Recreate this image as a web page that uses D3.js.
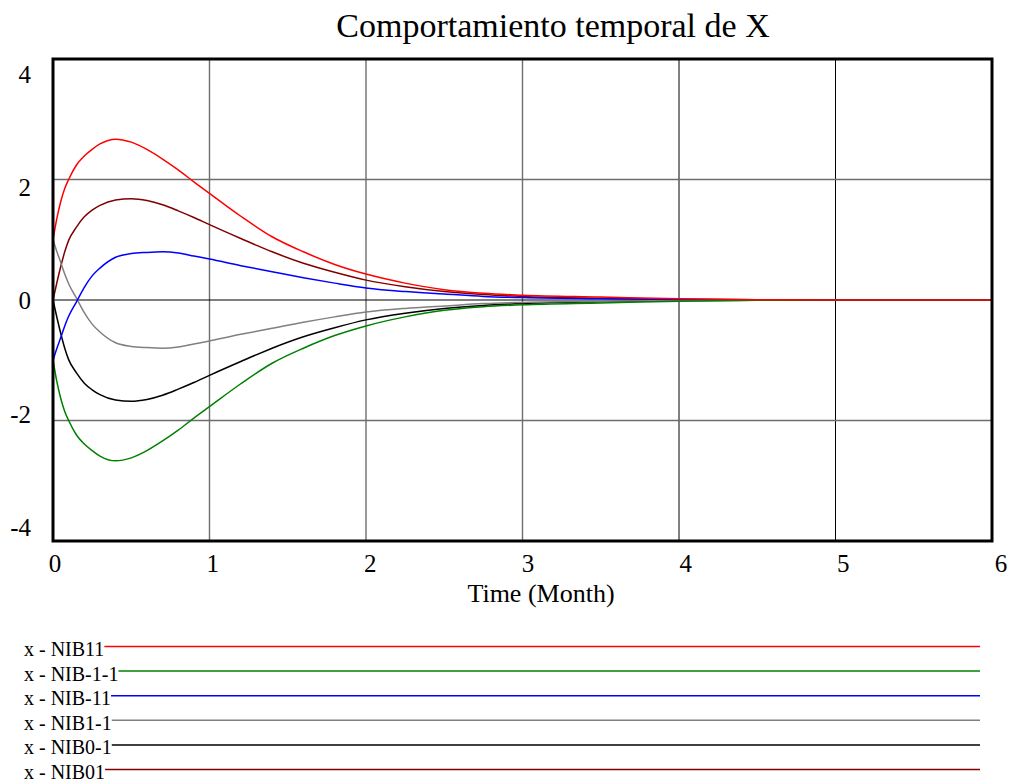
<!DOCTYPE html>
<html>
<head>
<meta charset="utf-8">
<script src="https://cdn.jsdelivr.net/npm/d3@7"></script>
<style>
  html, body { margin: 0; padding: 0; background: #fff; }
  svg { display: block; }
  text { font-family: "Liberation Serif", "Times New Roman", serif; fill: #000; }
</style>
</head>
<body>
<svg id="chart" width="1010" height="782"></svg>
<script>
// ---- Data ----
const title = "Comportamiento temporal de X";
const xAxisTitle = "Time (Month)";
const xTicks = [0, 1, 2, 3, 4, 5, 6];
const yTicks = [4, 2, 0, -2, -4];

const time = [0, 0.025, 0.05, 0.075, 0.1, 0.15, 0.2, 0.25, 0.3, 0.4, 0.5, 0.6, 0.7, 0.8, 0.9, 1.0,
              1.2, 1.4, 1.6, 1.8, 2.0, 2.25, 2.5, 2.75, 3.0, 3.5, 4.0, 4.5, 5.0, 6.0];

const nib11   = [1.00, 1.36, 1.64, 1.85, 2.00, 2.24, 2.39, 2.50, 2.59, 2.67, 2.62, 2.50, 2.34, 2.16, 1.96, 1.77,
                 1.39, 1.05, 0.80, 0.59, 0.43, 0.28, 0.17, 0.11, 0.08, 0.05, 0.02, 0.005, 0, 0];
const nibm1m1 = [-1.00, -1.36, -1.64, -1.85, -2.00, -2.24, -2.39, -2.50, -2.59, -2.67, -2.62, -2.50, -2.34, -2.16, -1.96, -1.77,
                 -1.39, -1.05, -0.80, -0.59, -0.43, -0.28, -0.17, -0.11, -0.08, -0.05, -0.02, -0.005, 0, 0];
const nibm11  = [-1.00, -0.80, -0.62, -0.43, -0.27, -0.03, 0.21, 0.40, 0.53, 0.71, 0.77, 0.79, 0.80, 0.78, 0.73, 0.68,
                 0.57, 0.47, 0.37, 0.28, 0.20, 0.14, 0.10, 0.06, 0.04, 0.02, 0.01, 0.003, 0, 0];
const nib1m1  = [1.00, 0.80, 0.62, 0.43, 0.27, 0.03, -0.21, -0.40, -0.53, -0.71, -0.77, -0.79, -0.80, -0.78, -0.73, -0.68,
                 -0.57, -0.47, -0.37, -0.28, -0.20, -0.14, -0.10, -0.06, -0.04, -0.02, -0.01, -0.003, 0, 0];
const nib0m1  = [0, -0.29, -0.56, -0.80, -0.99, -1.21, -1.38, -1.49, -1.57, -1.66, -1.68, -1.65, -1.58, -1.48, -1.37, -1.25,
                 -1.02, -0.80, -0.61, -0.46, -0.33, -0.22, -0.14, -0.09, -0.06, -0.03, -0.01, -0.003, 0, 0];
const nib01   = [0, 0.29, 0.56, 0.80, 0.99, 1.21, 1.38, 1.49, 1.57, 1.66, 1.68, 1.65, 1.58, 1.48, 1.37, 1.25,
                 1.02, 0.80, 0.61, 0.46, 0.33, 0.22, 0.14, 0.09, 0.06, 0.03, 0.01, 0.003, 0, 0];

const seriesNames  = ["x - NIB11", "x - NIB-1-1", "x - NIB-11", "x - NIB1-1", "x - NIB0-1", "x - NIB01"];
const seriesValues = [nib11, nibm1m1, nibm11, nib1m1, nib0m1, nib01];
const seriesColors = ["#ff0000", "#008000", "#0000ff", "#808080", "#000000", "#800000"];

// ---- Layout ----
const svg = d3.select("#chart");
const plotL = 53, plotR = 992, plotT = 59, plotB = 541;

const x = d3.scaleLinear().domain([0, 6]).range([plotL, plotR]);
const y = d3.scaleLinear().domain([-4, 4]).range([plotB, plotT]);
// label placement scales (labels are spread slightly differently than gridlines)
const xLab = d3.scaleLinear().domain([0, 6]).range([55, 1001]);
const yLab = d3.scaleLinear().domain([-4, 4]).range([527, 74]);

// Title
svg.append("text").attr("x", 553).attr("y", 37).attr("text-anchor", "middle")
  .style("font-size", "34px").text(title);

// Grid
const g = svg.append("g");
xTicks.filter(t => t > 0 && t < 6).forEach(t => {
  g.append("line").attr("x1", x(t)).attr("x2", x(t)).attr("y1", plotT).attr("y2", plotB)
    .attr("stroke", t >= 4 ? "#000" : "#6e6e6e").attr("stroke-width", t >= 4 ? 1 : 1.4);
});
yTicks.filter(v => v > -4 && v < 4).forEach(v => {
  g.append("line").attr("x1", plotL).attr("x2", plotR).attr("y1", y(v)).attr("y2", y(v))
    .attr("stroke", v === 0 ? "#000" : "#6e6e6e").attr("stroke-width", v === 0 ? 1.2 : 1.4);
});

// Series lines
const line = d3.line().x((d, i) => x(time[i])).y(d => y(d)).curve(d3.curveMonotoneX);
const order = [5, 4, 3, 2, 1, 0];
order.forEach(k => {
  svg.append("path").datum(seriesValues[k]).attr("d", line)
    .attr("fill", "none").attr("stroke", seriesColors[k]).attr("stroke-width", 1.5);
});

// Frame
svg.append("rect").attr("x", plotL).attr("y", plotT).attr("width", plotR - plotL).attr("height", plotB - plotT)
  .attr("fill", "none").attr("stroke", "#000").attr("stroke-width", 3);

// Y tick labels
yTicks.forEach(v => {
  svg.append("text").attr("x", 31).attr("y", yLab(v)).attr("dy", "0.35em")
    .attr("text-anchor", "end").style("font-size", "25px").text(v);
});
// X tick labels
xTicks.forEach(t => {
  svg.append("text").attr("x", xLab(t)).attr("y", 572).attr("text-anchor", "middle")
    .style("font-size", "25px").text(t);
});
// X axis title
svg.append("text").attr("x", 541).attr("y", 602).attr("text-anchor", "middle")
  .style("font-size", "26px").text(xAxisTitle);

// Legend
seriesNames.forEach((name, i) => {
  const base = 656 + i * 24.6;
  const t = svg.append("text").attr("x", 24).attr("y", base).style("font-size", "20px").text(name);
  const w = t.node().getComputedTextLength();
  svg.append("line").attr("x1", 24 + w).attr("x2", 980).attr("y1", base - 9.5).attr("y2", base - 9.5)
    .attr("stroke", seriesColors[i]).attr("stroke-width", 1.5);
});
</script>
</body>
</html>
